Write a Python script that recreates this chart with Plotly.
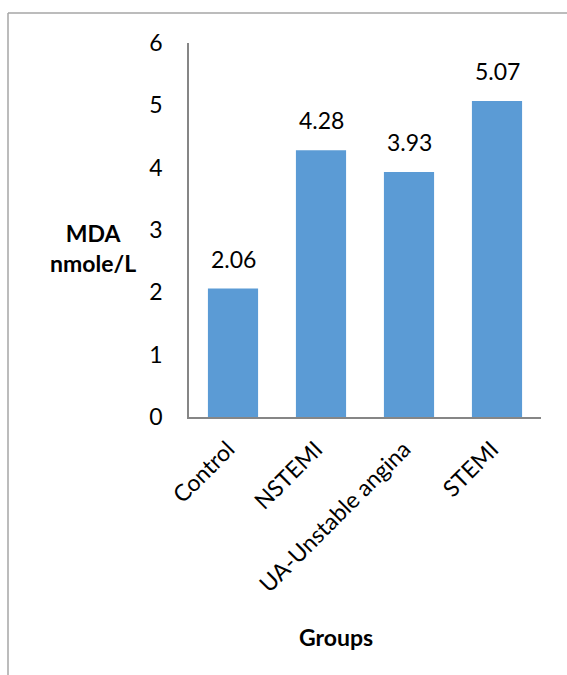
import plotly.graph_objects as go

groups = ["Control", "NSTEMI", "UA-Unstable angina", "STEMI"]
mda = [2.06, 4.28, 3.93, 5.07]
y_ticks = [0, 1, 2, 3, 4, 5, 6]

FONT = "Lato, Calibri, Carlito, sans-serif"
FS = 23
W, H = 567, 675
L, R, T, B = 189, 26, 43, 258
pw, ph = W - L - R, H - T - B

fig = go.Figure(
    go.Bar(
        x=groups,
        y=mda,
        marker=dict(color="#5B9BD5", line=dict(width=0)),
        cliponaxis=False,
    )
)

# value labels above each bar
for g, v in zip(groups, mda):
    fig.add_annotation(x=g, y=v, text=f"{v:.2f}", showarrow=False,
                       xanchor="center", yanchor="bottom", yshift=14,
                       font=dict(family=FONT, size=FS, color="#000000"))

# frame around the chart area (left and top edges visible)
bx = (8 - L) / pw
by = 1 + (T - 13) / ph
fig.add_shape(type="line", xref="paper", yref="paper", x0=bx, x1=bx + 2, y0=by, y1=by,
              line=dict(color="#A6A6A6", width=1.5))
fig.add_shape(type="line", xref="paper", yref="paper", x0=bx, x1=bx, y0=by, y1=-1,
              line=dict(color="#A6A6A6", width=1.5))

fig.add_annotation(xref="paper", yref="paper", x=(93 - L) / pw, y=1 - (248 - T) / ph,
                   xanchor="center", yanchor="middle",
                   text="<b>MDA</b><br><b>nmole/L</b>", showarrow=False,
                   font=dict(family=FONT, size=FS, color="#000000"), align="center")
fig.add_annotation(xref="paper", yref="paper", x=(336 - L) / pw, y=1 - (637 - T) / ph,
                   xanchor="center", yanchor="middle",
                   text="<b>Groups</b>", showarrow=False,
                   font=dict(family=FONT, size=FS, color="#000000"))

fig.update_layout(
    width=W, height=H,
    margin=dict(l=L, r=R, t=T, b=B, pad=0),
    paper_bgcolor="white", plot_bgcolor="white",
    bargap=0.43,
    showlegend=False,
    xaxis=dict(showline=True, linecolor="#868686", linewidth=1.5, showgrid=False,
               ticks="", tickangle=-45, ticklabelstandoff=8, ticklabelshift=-5,
               tickfont=dict(family=FONT, size=FS, color="#000000")),
    yaxis=dict(range=[0, 6], tickvals=y_ticks, showline=True, linecolor="#868686", linewidth=1.5,
               showgrid=False, zeroline=False, ticks="", ticklabelstandoff=20,
               tickfont=dict(family=FONT, size=FS, color="#000000")),
)

fig.write_html("out.html")
